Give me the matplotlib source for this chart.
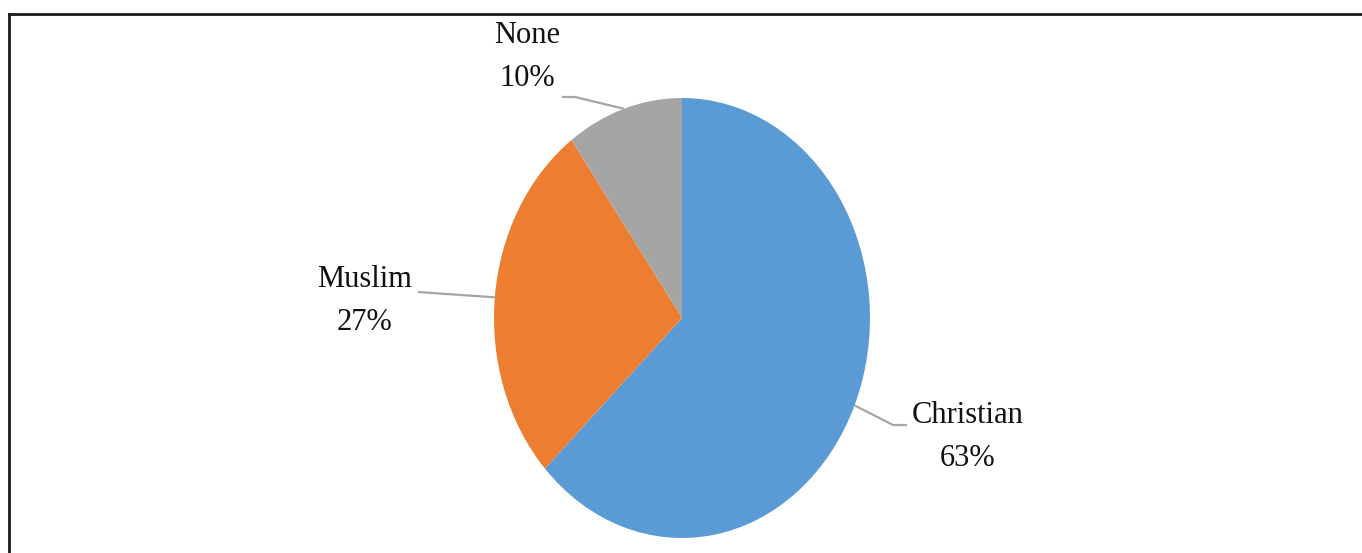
import numpy as np
import matplotlib.pyplot as plt
from matplotlib.lines import Line2D

labels = ["Christian", "Muslim", "None"]
shares = [63, 27, 10]
colors = ["#5B9BD5", "#ED7D31", "#A5A5A5"]

W, H = 1362, 553
cx, cy = 682, 318      # pie centre in pixels
rx, ry = 188, 220      # pie radii in pixels (slightly stretched vertically)

fig = plt.figure(figsize=(W / 100, H / 100), dpi=100)
ax = fig.add_axes([0, 0, 1, 1])

wedges, _ = ax.pie(shares, colors=colors, startangle=90, counterclock=False,
                   wedgeprops=dict(linewidth=0))
ax.set_aspect("auto")
# map pixel space so that radius 1 is rx by ry pixels
ax.set_xlim(-cx / rx, (W - cx) / rx)
ax.set_ylim(-(H - cy) / ry, cy / ry)
ax.axis("off")


def px(x, y):
    return (x - cx) / rx, (cy - y) / ry


# label centre, elbow and end of the leader (pixels)
label_pos = {"Christian": (968, 437), "Muslim": (365, 301), "None": (527, 57)}
elbows = {"Christian": [(893, 425), (907, 425)],
          "Muslim": [(432, 293), (418, 292)],
          "None": [(575, 97), (562, 97)]}

for w, lab, val in zip(wedges, labels, shares):
    mid = np.deg2rad((w.theta1 + w.theta2) / 2)
    x0, y0 = np.cos(mid), np.sin(mid)
    pts = [(x0, y0)] + [px(*p) for p in elbows[lab]]
    xs, ys = zip(*pts)
    ax.plot(xs, ys, color="#A6A6A6", lw=1.6, solid_capstyle="butt")
    tx, ty = px(*label_pos[lab])
    ax.text(tx, ty, f"{lab}\n{val}%", ha="center", va="center",
            family="Liberation Serif", fontsize=22, linespacing=1.6,
            color="#111111")

# outer frame (top and left edges)
fig.add_artist(Line2D([8.5 / W, 1], [1 - 13.5 / H] * 2, transform=fig.transFigure,
                      color="#1a1a1a", lw=2))
fig.add_artist(Line2D([8.5 / W] * 2, [0, 1 - 13.5 / H], transform=fig.transFigure,
                      color="#1a1a1a", lw=2))

fig.savefig("out.png", dpi=100)
